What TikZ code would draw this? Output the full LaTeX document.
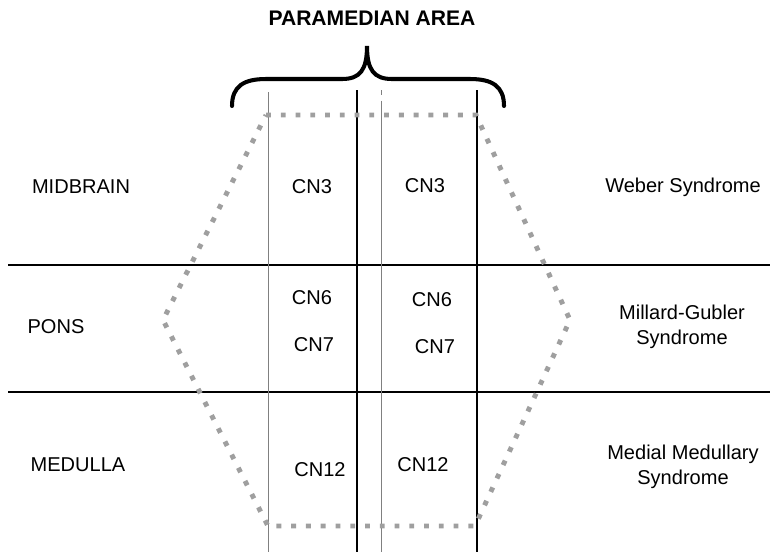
\documentclass[tikz,border=0pt]{standalone}
\usepackage{fontspec}
\setmainfont{Liberation Sans}
\begin{document}
\begin{tikzpicture}[
    x = 0.02cm,
    y = -0.02cm,
    label/.style = {font=\fontsize{11.4}{14}\selectfont, align=center,
    inner sep=0pt},
    title/.style = {font=\fontsize{12}{14}\selectfont\bfseries, inner sep=0pt},
    level/.style = {line width=0.9pt},
    thinsep/.style = {gray, line width=0.5pt},
    thicksep/.style = {black, line width=1.1pt},
    outline/.style = {gray!75, line width=2.8pt, dash pattern=on 2.8pt off 5.6pt},
    brace/.style = {line width=2.3pt, line cap=round},
]
\useasboundingbox (0,0) rectangle (770,552);

\node[title] (title) at (372,18) {PARAMEDIAN AREA};

% the brace
\draw[brace] (232,106) .. controls (232,86) and (244,79) .. (266,79)
    -- (342,79) .. controls (360,79) and (367,70) .. (367,46)
    .. controls (367,70) and (374,79) .. (392,79)
    -- (470,79) .. controls (492,79) and (504,86) .. (504,106);

% levels
\draw[level] (8,265) -- (770,265);
\draw[level] (8,392) -- (770,392);

% columns
\draw[thinsep] (268,92) -- (268,552);
\draw[thicksep] (357,90) -- (357,552);
\draw[thinsep, dashed] (381,90) -- (381,106);
\draw[thinsep] (381,106) -- (381,552);
\draw[thicksep] (477,90) -- (477,552);

% paramedian outline
\draw[outline] (266,115) -- (476,115) -- (570,320) -- (475,526)
    -- (268,526) -- (163,320) -- cycle;

\node[label] (mid) at (81,187) {MIDBRAIN};
\node[label] (pons) at (56,327) {PONS};
\node[label] (med) at (78,465) {MEDULLA};

\node[label] (cn3l) at (312,187) {CN3};
\node[label] (cn3r) at (425,186) {CN3};
\node[label] (cn6l) at (312,298) {CN6};
\node[label] (cn7l) at (314,345) {CN7};
\node[label] (cn6r) at (432,300) {CN6};
\node[label] (cn7r) at (435,347) {CN7};
\node[label] (cn12l) at (320,470) {CN12};
\node[label] (cn12r) at (423,465) {CN12};

\node[label] (weber) at (683,187) {Weber Syndrome};
\node[label] (millard) at (682,327) {Millard-Gubler\\Syndrome};
\node[label] (medial) at (683,467) {Medial Medullary\\Syndrome};

\end{tikzpicture}
\end{document}
